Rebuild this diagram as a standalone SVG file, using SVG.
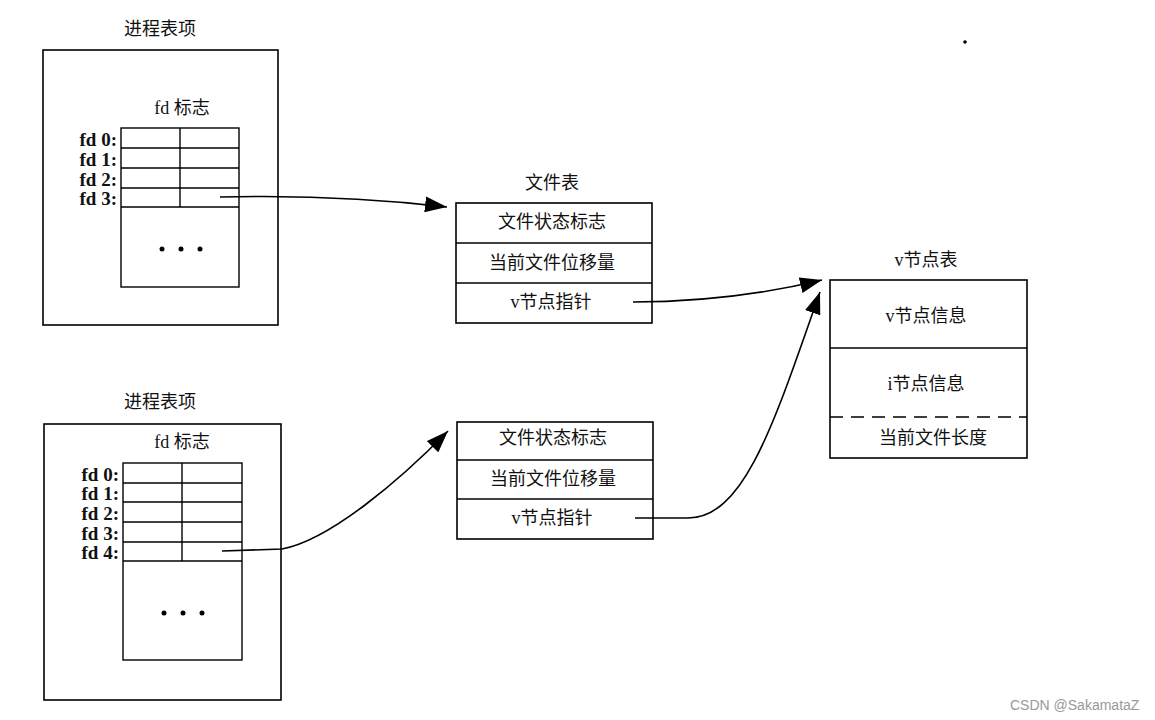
<svg xmlns="http://www.w3.org/2000/svg" width="1155" height="720" viewBox="0 0 1155 720">
<style>
.box{fill:none;stroke:#000;stroke-width:1.6}
.ln{fill:none;stroke:#000;stroke-width:1.4}
.t{font-family:"Liberation Serif","Noto Sans CJK SC",serif;font-size:18px;fill:#111;text-anchor:middle}
.fd{font-family:"Liberation Serif",serif;font-size:19px;font-weight:bold;fill:#111;text-anchor:end}
.con{fill:none;stroke:#000;stroke-width:1.6}
.wm{font-family:"Liberation Sans",sans-serif;font-size:14px;fill:#999}
</style>
<defs>
<marker id="ah" markerUnits="userSpaceOnUse" markerWidth="24" markerHeight="16" refX="22" refY="8" orient="auto">
<path d="M0,0 L22,8 L0,16 Z" fill="#000"/>
</marker>
</defs>
<rect width="1155" height="720" fill="#fff"/>

<g id="proc1">
<text class="t" x="160" y="35">进程表项</text>
<rect class="box" x="43" y="50" width="235" height="275"/>
<text class="t" x="182" y="114">fd 标志</text>
<rect class="ln" x="121" y="128" width="118" height="159"/>
<line class="ln" x1="121" y1="148" x2="239" y2="148"/>
<line class="ln" x1="121" y1="168" x2="239" y2="168"/>
<line class="ln" x1="121" y1="188" x2="239" y2="188"/>
<line class="ln" x1="121" y1="207" x2="239" y2="207"/>
<line class="ln" x1="180" y1="128" x2="180" y2="207"/>
<text class="fd" x="117" y="146">fd 0:</text>
<text class="fd" x="117" y="166">fd 1:</text>
<text class="fd" x="117" y="186">fd 2:</text>
<text class="fd" x="117" y="205">fd 3:</text>
<circle cx="162" cy="249" r="2.5"/>
<circle cx="181" cy="249" r="2.5"/>
<circle cx="200" cy="249" r="2.5"/>
</g>

<g id="proc2">
<text class="t" x="160" y="408">进程表项</text>
<rect class="box" x="44" y="424" width="237" height="276"/>
<text class="t" x="182" y="448">fd 标志</text>
<rect class="ln" x="123" y="463" width="119" height="197"/>
<line class="ln" x1="123" y1="483" x2="242" y2="483"/>
<line class="ln" x1="123" y1="502" x2="242" y2="502"/>
<line class="ln" x1="123" y1="522" x2="242" y2="522"/>
<line class="ln" x1="123" y1="542" x2="242" y2="542"/>
<line class="ln" x1="123" y1="561" x2="242" y2="561"/>
<line class="ln" x1="182" y1="463" x2="182" y2="561"/>
<text class="fd" x="119" y="481">fd 0:</text>
<text class="fd" x="119" y="500">fd 1:</text>
<text class="fd" x="119" y="520">fd 2:</text>
<text class="fd" x="119" y="540">fd 3:</text>
<text class="fd" x="119" y="559">fd 4:</text>
<circle cx="164" cy="613" r="2.5"/>
<circle cx="183" cy="613" r="2.5"/>
<circle cx="202" cy="613" r="2.5"/>
</g>

<g id="file1">
<text class="t" x="552" y="189">文件表</text>
<rect class="box" x="456" y="203" width="196" height="120"/>
<line class="ln" x1="456" y1="243" x2="652" y2="243"/>
<line class="ln" x1="456" y1="283" x2="652" y2="283"/>
<text class="t" x="552" y="228">文件状态标志</text>
<text class="t" x="552" y="269">当前文件位移量</text>
<text class="t" x="551" y="308">v节点指针</text>
</g>

<g id="file2">
<rect class="box" x="457" y="422" width="196" height="117"/>
<line class="ln" x1="457" y1="460" x2="653" y2="460"/>
<line class="ln" x1="457" y1="499" x2="653" y2="499"/>
<text class="t" x="553" y="444">文件状态标志</text>
<text class="t" x="553" y="485">当前文件位移量</text>
<text class="t" x="552" y="524">v节点指针</text>
</g>

<g id="vnode">
<text class="t" x="926" y="266">v节点表</text>
<rect class="box" x="830" y="280" width="197" height="178"/>
<line class="ln" x1="830" y1="348" x2="1027" y2="348"/>
<line class="ln" x1="830" y1="417" x2="1027" y2="417" stroke-dasharray="13,8"/>
<text class="t" x="926" y="322">v节点信息</text>
<text class="t" x="926" y="390">i节点信息</text>
<text class="t" x="933" y="444">当前文件长度</text>
</g>

<g id="connectors">
<path class="con" d="M220,197 C300,195 380,199 447,207" marker-end="url(#ah)"/>
<path class="con" d="M222,551 L282,549 C330,540 400,480 448,431" marker-end="url(#ah)"/>
<path class="con" d="M633,302 C700,302 760,295 822,280" marker-end="url(#ah)"/>
<path class="con" d="M635,518 L688,518 C745,518 775,420 820,292" marker-end="url(#ah)"/>
</g>

<circle cx="965" cy="42" r="1.8" fill="#000"/>
<text class="wm" x="1010" y="710">CSDN @SakamataZ</text>
</svg>
